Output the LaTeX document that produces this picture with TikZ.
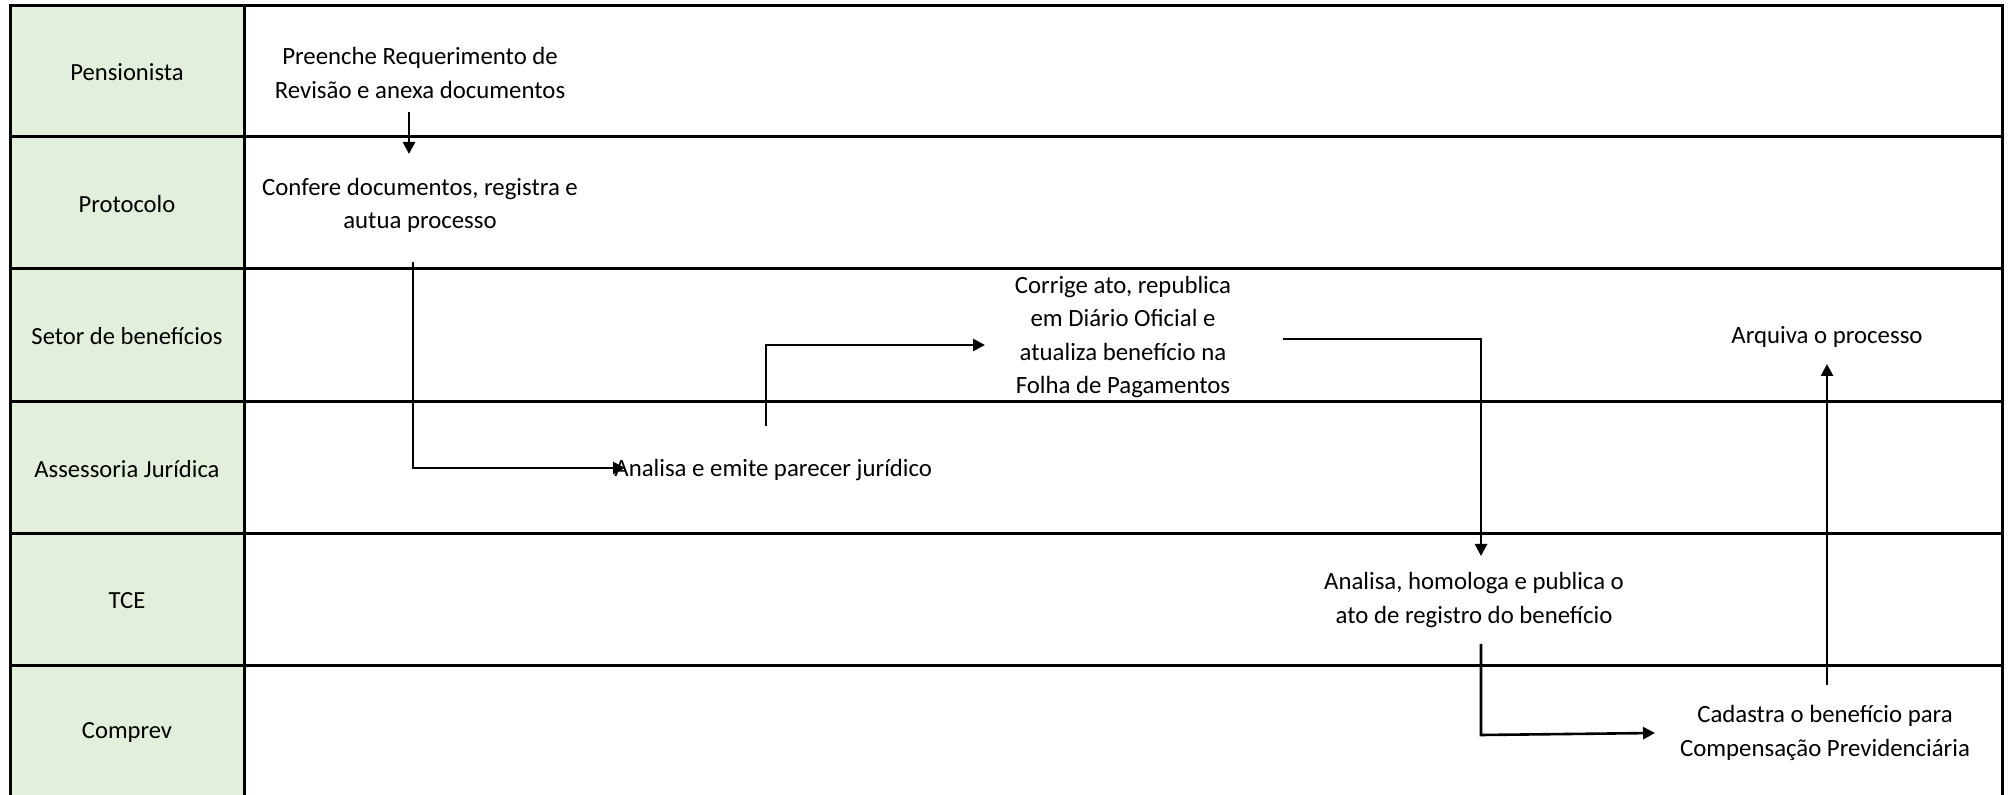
\documentclass[tikz,border=0pt]{standalone}
\usepackage{fontspec}
\setmainfont{Carlito}
\usetikzlibrary{arrows.meta}
\definecolor{lanegreen}{HTML}{E2EFDA}
\tikzset{
  border/.style={line width=1.5pt,black},
  conn/.style={line width=1.3pt,black},
  arr/.style={conn,-{Triangle[length=6pt,width=6pt]}},
  lbl/.style={inner sep=0pt,align=center,font=\fontsize{12.3}{16.6}\selectfont},
  txt/.style={inner sep=0pt,align=center,font=\fontsize{12.4}{16.6}\selectfont}
}
\begin{document}
\begin{tikzpicture}[x=0.5pt,y=-0.5pt]
\useasboundingbox (0,0) rectangle (2012,795);
% lane label column
\fill[lanegreen] (10,6) rectangle (244,800);
% grid
\draw[border] (10,800) -- (10,6) -- (2002,6) -- (2002,800);
\draw[border] (244,6) -- (244,800);
\foreach \y in {137,269,402,534,666} \draw[border] (10,\y) -- (2002,\y);
% lane labels
\node[lbl] (l1) at (127,72) {Pensionista};
\node[lbl] (l2) at (127,204) {Protocolo};
\node[lbl] (l3) at (127,336) {Setor de benefícios};
\node[lbl] (l4) at (127,469) {Assessoria Jurídica};
\node[lbl] (l5) at (127,601) {TCE};
\node[lbl] (l6) at (127,732) {Comprev};
% steps
\node[txt] (s1) at (420,73) {Preenche Requerimento de\\Revisão e anexa documentos};
\node[txt] (s2) at (420,205) {Confere documentos, registra e\\autua processo};
\node[txt,anchor=west] (s3) at (614,470) {Analisa e emite parecer jurídico};
\node[txt] (s4) at (1123,337) {Corrige ato, republica\\em Diário Oficial e\\atualiza benefício na\\Folha de Pagamentos};
\node[txt] (s5) at (1474,600) {Analisa, homologa e publica o\\ato de registro do benefício};
\node[txt] (s6) at (1825,733) {Cadastra o benefício para\\Compensação Previdenciária};
\node[txt] (s7) at (1827,337) {Arquiva o processo};
% connector points
\coordinate (a1) at (409,112);
\coordinate (b1) at (409,154);
\coordinate (a2) at (413,262);
\coordinate (c2) at (413,468);
\coordinate (b2) at (625,468);
\coordinate (a3) at (766,426);
\coordinate (c3) at (766,345);
\coordinate (b3) at (985,345);
\coordinate (a4) at (1283,339);
\coordinate (c4) at (1481,339);
\coordinate (b4) at (1481,556);
\coordinate (a5) at (1481,644);
\coordinate (c5) at (1481,735);
\coordinate (b5) at (1655,733);
\coordinate (a6) at (1827,685);
\coordinate (b6) at (1827,364);
% connectors
\draw[arr] (a1) -- (b1);
\draw[arr] (a2) -- (c2) -- (b2);
\draw[arr] (a3) -- (c3) -- (b3);
\draw[arr] (a4) -- (c4) -- (b4);
\draw[arr] (a5) -- (c5) -- (b5);
\draw[arr] (a6) -- (b6);
\end{tikzpicture}
\end{document}
